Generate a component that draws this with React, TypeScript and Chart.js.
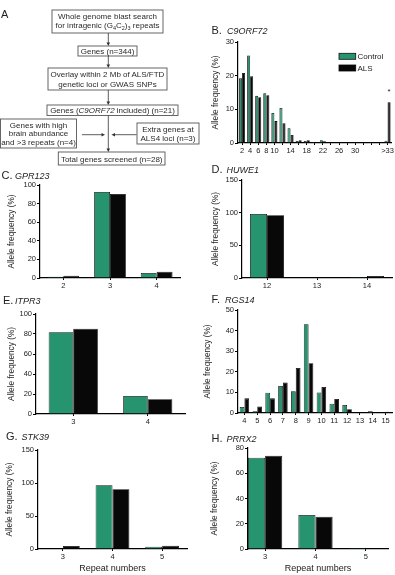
import React, { useEffect, useRef } from 'react';
import { Chart, registerables } from 'chart.js';

Chart.register(...registerables);

const FONT = '"Liberation Sans", Arial, Helvetica, sans-serif';
const GREEN = '#26946e';
const BLACK = '#080808';
const INK = '#222';

// ---- B. C9ORF72 (repeat bins; ">33" collects the expansions)
const c9Categories = ['2', '4', '6', '8', '10', '12', '14', '16', '18', '20', '22', '24', '26', '28', '30', '32', '34', '36', '>33'];
const c9TickLabels = ['2', '4', '6', '8', '10', '14', '18', '22', '26', '30', '>33'];
const c9Control = [19.2, 26.0, 14.0, 14.8, 8.9, 10.4, 4.4, 0.6, 0.6, 0.3, 0.8, 0.2, 0, 0, 0.2, 0, 0.3, 0, 0.7];
const c9ALS = [20.8, 19.8, 13.6, 14.2, 6.5, 5.9, 2.4, 0.8, 0.8, 0.2, 0.5, 0, 0, 0, 0.3, 0, 0.3, 0, 12.1];

// ---- C. GPR123
const gprCategories = ['2', '3', '4'];
const gprControl = [1.4, 92.4, 5.4];
const gprALS = [2.5, 90.3, 6.8];

// ---- D. HUWE1
const huweCategories = ['12', '13', '14'];
const huweControl = [98.1, 0, 1.5];
const huweALS = [96.1, 0, 3.0];

// ---- E. ITPR3
const itprCategories = ['3', '4'];
const itprControl = [81.7, 18.0];
const itprALS = [85.3, 14.7];

// ---- F. RGS14
const rgsCategories = ['4', '5', '6', '7', '8', '9', '10', '11', '12', '13', '14', '15'];
const rgsControl = [2.9, 0.8, 9.8, 13.1, 10.6, 43.1, 10.0, 4.5, 3.9, 0, 0.8, 0];
const rgsALS = [7.1, 3.2, 7.1, 14.8, 21.9, 24.2, 12.6, 6.8, 1.8, 0, 0.3, 0.6];

// ---- G. STK39
const stkCategories = ['3', '4', '5'];
const stkControl = [0, 96.5, 3.5];
const stkALS = [4.5, 90.5, 5.0];

// ---- H. PRRX2 (drawn on a numeric repeat axis)
const prrxCategories = ['3', '4', '5'];
const prrxControl = [72.3, 27.0, 0.7];
const prrxALS = [73.9, 25.6, 0.5];
const prrxRepeatRange = [2.66, 5.44];

type PanelSpec = {
  categories: string[];
  control: number[];
  als: number[];
  yMax: number;
  yStep: number;
  shown?: string[];
  starAt?: number;
  xTitle?: string;
  xRange?: number[];
  box: { x: number; y: number; w: number; h: number };
  yAxisW: number;
  xAxisH: number;
  padTop: number;
  padRight: number;
  yTitlePad: number;
  catPct: number;
};

const starPlugin = {
  id: 'significance',
  afterDatasetsDraw(chart: any, _args: any, opts: any) {
    if (opts == null || opts.index == null) return;
    const bar = chart.getDatasetMeta(1).data[opts.index];
    if (!bar) return;
    const ctx = chart.ctx;
    ctx.save();
    ctx.fillStyle = INK;
    ctx.font = `8px ${FONT}`;
    ctx.textAlign = 'center';
    ctx.textBaseline = 'alphabetic';
    ctx.fillText('*', bar.x, bar.y - 8.5);
    ctx.restore();
  },
};

function BarPanel({ spec }: { spec: PanelSpec }) {
  const ref = useRef<HTMLCanvasElement>(null);
  useEffect(() => {
    const s = spec;
    const numeric = !!s.xRange;
    const toData = (vals: number[]) =>
      numeric ? vals.map((v, i) => ({ x: Number(s.categories[i]), y: v })) : vals;

    const tickFont = { family: FONT, size: 7.5 };
    const xGrid = {
      display: true,
      drawOnChartArea: false,
      drawTicks: true,
      tickLength: 2,
      color: '#000',
      offset: false,
    };
    const xTitle = s.xTitle
      ? {
          display: true,
          text: s.xTitle,
          color: INK,
          font: { family: FONT, size: 9 },
          padding: { top: 0, bottom: 1 },
        }
      : { display: false };

    const xScale: any = numeric
      ? {
          type: 'linear',
          offset: false,
          min: s.xRange![0],
          max: s.xRange![1],
          afterFit: (sc: any) => {
            sc.height = s.xAxisH;
          },
          afterBuildTicks: (sc: any) => {
            sc.ticks = s.categories.map((c) => ({ value: Number(c) }));
          },
          grid: xGrid,
          border: { display: true, color: '#000', width: 1.2 },
          ticks: { padding: 1, color: INK, font: tickFont, maxRotation: 0 },
          title: xTitle,
        }
      : {
          afterFit: (sc: any) => {
            sc.height = s.xAxisH;
          },
          grid: xGrid,
          border: { display: true, color: '#000', width: 1.2 },
          ticks: {
            autoSkip: false,
            maxRotation: 0,
            padding: 1,
            color: INK,
            font: tickFont,
            callback: function (_v: any, i: number) {
              const lab = s.categories[i];
              if (s.shown && !s.shown.includes(lab)) return '';
              return lab;
            },
          },
          title: xTitle,
        };

    const chart = new Chart(ref.current as HTMLCanvasElement, {
      type: 'bar',
      data: {
        labels: numeric ? undefined : s.categories,
        datasets: [
          {
            label: 'Control',
            data: toData(s.control),
            backgroundColor: GREEN,
            borderColor: '#111',
            borderWidth: 0.8,
            categoryPercentage: s.catPct,
            barPercentage: 1,
          },
          {
            label: 'ALS',
            data: toData(s.als),
            backgroundColor: BLACK,
            borderColor: BLACK,
            borderWidth: 0.8,
            categoryPercentage: s.catPct,
            barPercentage: 1,
          },
        ],
      } as any,
      plugins: [starPlugin],
      options: {
        responsive: false,
        animation: false,
        layout: { padding: { top: s.padTop, right: s.padRight, left: 0, bottom: 0 } },
        plugins: {
          legend: { display: false },
          tooltip: { enabled: false },
          significance: { index: s.starAt },
        } as any,
        scales: {
          x: xScale,
          y: {
            min: 0,
            max: s.yMax,
            afterFit: (sc: any) => {
              sc.width = s.yAxisW;
            },
            grid: {
              display: true,
              drawOnChartArea: false,
              drawTicks: true,
              tickLength: 3,
              color: '#000',
            },
            border: { display: true, color: '#000', width: 1.2 },
            ticks: {
              stepSize: s.yStep,
              padding: 1,
              color: INK,
              font: tickFont,
            },
            title: {
              display: true,
              text: 'Allele frequency (%)',
              color: INK,
              font: { family: FONT, size: 8.3 },
              padding: { top: s.yTitlePad, bottom: 0 },
            },
          },
        },
      } as any,
    });
    return () => chart.destroy();
  }, [spec]);
  const b = spec.box;
  return (
    <canvas
      ref={ref}
      width={b.w}
      height={b.h}
      style={{ position: 'absolute', left: b.x, top: b.y, width: b.w, height: b.h }}
    />
  );
}

const panels: PanelSpec[] = [
  {
    categories: c9Categories, control: c9Control, als: c9ALS, yMax: 30, yStep: 10,
    shown: c9TickLabels, starAt: c9Categories.length - 1,
    box: { x: 208, y: 36, w: 187, h: 121 }, yAxisW: 30, xAxisH: 14, padTop: 6, padRight: 3, yTitlePad: 3, catPct: 0.75,
  },
  {
    categories: gprCategories, control: gprControl, als: gprALS, yMax: 100, yStep: 20,
    box: { x: 4, y: 179, w: 178, h: 112 }, yAxisW: 36, xAxisH: 13, padTop: 6, padRight: 2, yTitlePad: 3, catPct: 0.68,
  },
  {
    categories: huweCategories, control: huweControl, als: huweALS, yMax: 150, yStep: 50,
    box: { x: 208, y: 174, w: 186, h: 117 }, yAxisW: 34, xAxisH: 13, padTop: 6, padRight: 2, yTitlePad: 3, catPct: 0.68,
  },
  {
    categories: itprCategories, control: itprControl, als: itprALS, yMax: 100, yStep: 20,
    box: { x: 4, y: 308, w: 183, h: 119 }, yAxisW: 32, xAxisH: 13, padTop: 6, padRight: 2, yTitlePad: 3, catPct: 0.66,
  },
  {
    categories: rgsCategories, control: rgsControl, als: rgsALS, yMax: 50, yStep: 10,
    box: { x: 202, y: 304, w: 192, h: 122 }, yAxisW: 36, xAxisH: 13, padTop: 6, padRight: 2, yTitlePad: 1, catPct: 0.74,
  },
  {
    categories: stkCategories, control: stkControl, als: stkALS, yMax: 150, yStep: 50, xTitle: 'Repeat numbers',
    box: { x: 4, y: 444, w: 185, h: 131 }, yAxisW: 34, xAxisH: 26, padTop: 6, padRight: 2, yTitlePad: 1, catPct: 0.68,
  },
  {
    categories: prrxCategories, control: prrxControl, als: prrxALS, yMax: 80, yStep: 20, xTitle: 'Repeat numbers',
    xRange: prrxRepeatRange,
    box: { x: 208, y: 442, w: 182, h: 133 }, yAxisW: 40, xAxisH: 26, padTop: 6, padRight: 2, yTitlePad: 2, catPct: 0.68,
  },
];

const panelTitles = [
  { letter: 'B.', gene: 'C9ORF72', x: 211.5, gx: 227, y: 34 },
  { letter: 'C.', gene: 'GPR123', x: 1.5, gx: 15, y: 178.5 },
  { letter: 'D.', gene: 'HUWE1', x: 211.5, gx: 226.5, y: 173 },
  { letter: 'E.', gene: 'ITPR3', x: 3, gx: 15, y: 304 },
  { letter: 'F.', gene: 'RGS14', x: 211.5, gx: 225, y: 303 },
  { letter: 'G.', gene: 'STK39', x: 6, gx: 21.5, y: 440 },
  { letter: 'H.', gene: 'PRRX2', x: 211.5, gx: 226.5, y: 441.5 },
];

function VArrow({ x, y1, y2 }: { x: number; y1: number; y2: number }) {
  return (
    <g>
      <line x1={x} y1={y1} x2={x} y2={y2 - 3} stroke="#333" strokeWidth={0.8} />
      <polygon points={`${x - 1.8},${y2 - 3.5} ${x + 1.8},${y2 - 3.5} ${x},${y2}`} fill="#333" />
    </g>
  );
}

function HArrow({ x1, x2, y }: { x1: number; x2: number; y: number }) {
  const dir = x2 > x1 ? 1 : -1;
  return (
    <g>
      <line x1={x1} y1={y} x2={x2 - dir * 3} y2={y} stroke="#333" strokeWidth={0.8} />
      <polygon
        points={`${x2 - dir * 3.5},${y - 1.8} ${x2 - dir * 3.5},${y + 1.8} ${x2},${y}`}
        fill="#333"
      />
    </g>
  );
}

function Flow() {
  const t = { fontFamily: FONT, fontSize: 8, fill: '#2a2a2a', textAnchor: 'middle' as const };
  const box = { fill: '#fff', stroke: '#555', strokeWidth: 0.9 };
  return (
    <g>
      <text x={1} y={18} style={{ fontFamily: FONT, fontSize: 11, fill: INK }}>A</text>

      <rect x={52} y={10} width={111} height={23} {...box} />
      <text x={107.5} y={19} {...t}>Whole genome blast search</text>
      <text x={107.5} y={28} {...t}>
        for intragenic (G<tspan fontSize={5.5} dy={1.5}>4</tspan>
        <tspan dy={-1.5}>C</tspan>
        <tspan fontSize={5.5} dy={1.5}>2</tspan>
        <tspan dy={-1.5}>)</tspan>
        <tspan fontSize={5.5} dy={1.5}>3</tspan>
        <tspan dy={-1.5}> repeats</tspan>
      </text>

      <VArrow x={108.3} y1={33} y2={46} />
      <rect x={78} y={46} width={59} height={10} {...box} />
      <text x={107.5} y={53.5} {...t}>Genes (n=344)</text>

      <VArrow x={108.3} y1={56} y2={68} />
      <rect x={48} y={68} width={119} height={22} {...box} />
      <text x={107.5} y={77} {...t}>Overlay within 2 Mb of ALS/FTD</text>
      <text x={107.5} y={86.5} {...t}>genetic loci or GWAS SNPs</text>

      <VArrow x={108.3} y1={90} y2={105} />
      <rect x={47} y={105} width={131} height={10.5} {...box} />
      <text x={112.5} y={113} {...t}>
        Genes (<tspan fontStyle="italic">C9ORF72</tspan> included) (n=21)
      </text>

      <rect x={0.5} y={119} width={76} height={29} {...box} />
      <text x={38.5} y={127.5} {...t}>Genes with high</text>
      <text x={38.5} y={136.3} {...t}>brain abundance</text>
      <text x={38.5} y={145} {...t}>and &gt;3 repeats (n=4)</text>

      <rect x={137} y={123} width={62} height={21} {...box} />
      <text x={168} y={131.7} {...t}>Extra genes at</text>
      <text x={168} y={140.7} {...t}>ALS4 loci (n=3)</text>

      <HArrow x1={82} x2={105} y={134.7} />
      <HArrow x1={136.5} x2={111.5} y={134.7} />
      <VArrow x={108.3} y1={115.5} y2={152} />

      <rect x={58.3} y={152} width={106.7} height={13} {...box} />
      <text x={111.7} y={161.7} {...t}>Total genes screened (n=28)</text>
    </g>
  );
}

export default function App() {
  return (
    <div
      style={{
        position: 'fixed',
        left: 0,
        top: 0,
        width: 395,
        height: 575,
        background: '#fff',
        overflow: 'hidden',
      }}
    >
      {panels.map((p, i) => (
        <BarPanel key={i} spec={p} />
      ))}
      <svg
        width={395}
        height={575}
        style={{ position: 'absolute', left: 0, top: 0, pointerEvents: 'none' }}
      >
        <Flow />
        {panelTitles.map((p) => (
          <g key={p.letter}>
            <text x={p.x} y={p.y} style={{ fontFamily: FONT, fontSize: 11, fill: INK }}>
              {p.letter}
            </text>
            <text x={p.gx} y={p.y} style={{ fontFamily: FONT, fontSize: 9, fontStyle: 'italic', fill: INK }}>
              {p.gene}
            </text>
          </g>
        ))}
        {/* legend for the C9ORF72 panel */}
        <rect x={339} y={53.3} width={16.7} height={6} fill={GREEN} stroke="#111" strokeWidth={0.8} />
        <text x={357.5} y={59.2} style={{ fontFamily: FONT, fontSize: 8, fill: INK }}>Control</text>
        <rect x={339} y={65} width={16.7} height={6} fill={BLACK} stroke={BLACK} strokeWidth={0.8} />
        <text x={357.5} y={70.9} style={{ fontFamily: FONT, fontSize: 8, fill: INK }}>ALS</text>
      </svg>
    </div>
  );
}
